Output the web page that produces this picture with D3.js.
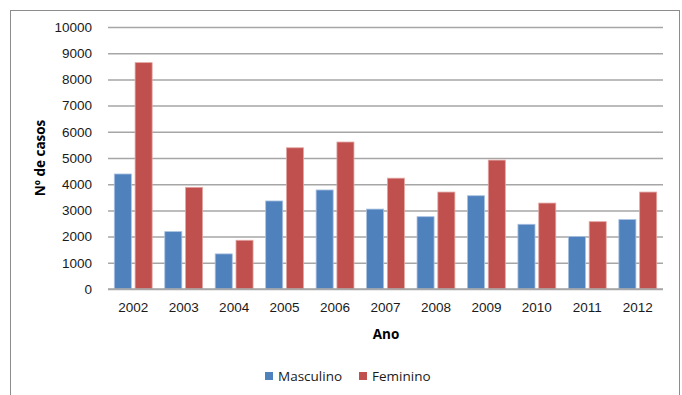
<!DOCTYPE html>
<html>
<head>
<meta charset="utf-8">
<script src="https://cdn.jsdelivr.net/npm/d3@7"></script>
<style>
  html, body { margin: 0; padding: 0; background: #fff; }
  svg { display: block; font-family: "Open Sans", Lato, sans-serif; }
</style>
</head>
<body>
<svg id="chart" width="682" height="395"></svg>
<script>
// Casos por ano, separados por sexo
const anos = ["2002","2003","2004","2005","2006","2007","2008","2009","2010","2011","2012"];
const masculino = [4390, 2190, 1340, 3360, 3780, 3050, 2760, 3560, 2470, 2000, 2650];
const feminino  = [8640, 3880, 1860, 5390, 5610, 4230, 3700, 4920, 3280, 2570, 3700];
const series = ["Masculino", "Feminino"];
const cores = ["#4F81BD", "#C0504D"];
const yTicks = [0,1000,2000,3000,4000,5000,6000,7000,8000,9000,10000];

const svg = d3.select("#chart");
const plot = { left: 108, right: 663, top: 27, bottom: 289 };
const fs = 13.5;

// outer frame
svg.append("rect")
  .attr("x", 10.5).attr("y", 10.5)
  .attr("width", 669).attr("height", 400)
  .attr("fill", "#fff").attr("stroke", "#8c8c8c").attr("stroke-width", 1);

const x0 = d3.scaleBand().domain(anos).range([plot.left, plot.right]).paddingInner(0.25).paddingOuter(0.125);
const x1 = d3.scaleBand().domain(series).range([0, x0.bandwidth()]).paddingInner(0.18);
const y = d3.scaleLinear().domain([0, 10000]).range([plot.bottom, plot.top]);

// gridlines + y labels
const yAxis = d3.axisLeft(y).tickValues(yTicks).tickSize(-(plot.right - plot.left)).tickPadding(16).tickFormat(d3.format("d"));
const gy = svg.append("g").attr("transform", `translate(${plot.left},0)`).call(yAxis);
gy.select(".domain").remove();
gy.selectAll(".tick line").attr("stroke", "#a6a6a6").attr("stroke-width", 1.5);
gy.selectAll(".tick text").attr("font-size", fs).attr("fill", "#1a1a1a");

// bars
const dados = anos.map((a, i) => ({ ano: a, valores: [masculino[i], feminino[i]] }));
const grupos = svg.append("g").selectAll("g").data(dados).join("g")
  .attr("transform", d => `translate(${x0(d.ano)},0)`);
grupos.selectAll("rect").data(d => d.valores.map((v, j) => ({ s: series[j], v, c: cores[j] })))
  .join("rect")
  .attr("x", d => x1(d.s))
  .attr("y", d => y(d.v))
  .attr("width", x1.bandwidth())
  .attr("height", d => y(0) - y(d.v))
  .attr("fill", d => d.c)
  .attr("stroke", d => d.s === "Masculino" ? "#a9c1e0" : "#e3a6a4")
  .attr("stroke-width", 0.8);

// x axis baseline
svg.append("line")
  .attr("x1", plot.left).attr("x2", plot.right)
  .attr("y1", plot.bottom).attr("y2", plot.bottom)
  .attr("stroke", "#a6a6a6").attr("stroke-width", 1.5);

const xAxis = d3.axisBottom(x0).tickSize(0).tickPadding(13);
const gx = svg.append("g").attr("transform", `translate(0,${plot.bottom})`).call(xAxis);
gx.select(".domain").remove();
gx.selectAll(".tick text").attr("font-size", fs).attr("fill", "#1a1a1a");

// axis titles
svg.append("text")
  .attr("x", 386).attr("y", 339)
  .attr("text-anchor", "middle").attr("font-size", fs).attr("font-weight", "bold")
  .text("Ano");
svg.append("text")
  .attr("transform", `translate(45,${(plot.top + plot.bottom) / 2}) rotate(-90)`)
  .attr("text-anchor", "middle").attr("font-size", fs).attr("font-weight", "bold")
  .text("Nº de casos");

// legend
const legX = [265, 359];
const leg = svg.append("g").selectAll("g").data(series).join("g")
  .attr("transform", (d, i) => `translate(${legX[i]},376)`);
leg.append("rect").attr("x", 0).attr("y", -4).attr("width", 8).attr("height", 8).attr("fill", (d, i) => cores[i]);
leg.append("text").attr("x", 13).attr("y", 0).attr("dy", "0.35em")
  .attr("font-size", fs).attr("fill", "#1a1a1a").text(d => d);
</script>
</body>
</html>
